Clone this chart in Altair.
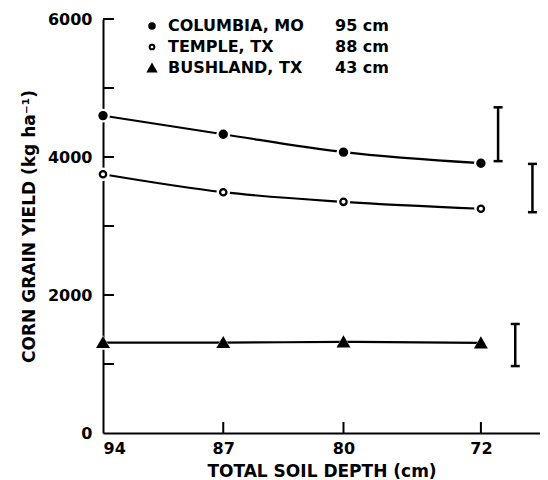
import altair as alt
import pandas as pd

# ---- data ----
depths = [94, 87, 80, 72]
columbia = [4600, 4330, 4070, 3910]
temple = [3750, 3490, 3350, 3250]
bushland = [1310, 1310, 1320, 1305]
sites = ["COLUMBIA, MO", "TEMPLE, TX", "BUSHLAND, TX"]
site_depths = ["95 cm", "88 cm", "43 cm"]
err_x = [71, 69, 70]
err_low = [3940, 3200, 970]
err_high = [4720, 3900, 1580]
y_tick_vals = [1000, 2000, 3000, 4000, 5000, 6000]
x_tick_vals = [87, 80, 72]
y_label_vals = [0, 2000, 4000, 6000]
x_label_vals = [94, 87, 80, 72]

FONT = "DejaVu Sans"
W, H = 437, 414

rows = []
for s, vals in zip(sites, [columbia, temple, bushland]):
    for d, v in zip(depths, vals):
        rows.append({"site": s, "depth": d, "yield": v})
df = pd.DataFrame(rows)

err_df = pd.DataFrame({"x": err_x, "lo": err_low, "hi": err_high})
leg_df = pd.DataFrame({"site": sites, "sdepth": site_depths, "i": list(range(len(sites)))})
ytick_df = pd.DataFrame({"v": y_tick_vals})
xtick_df = pd.DataFrame({"v": x_tick_vals})

xscale = alt.Scale(domain=[68.56, 94], reverse=True, nice=False, zero=False)
yscale = alt.Scale(domain=[0, 6000], nice=False)

shape_scale = alt.Scale(domain=sites, range=["circle", "circle", "triangle-up"])
fill_scale = alt.Scale(domain=sites, range=["black", "white", "black"])
size_scale = alt.Scale(type="ordinal", domain=sites, range=[50, 40, 100])
halo_scale = alt.Scale(type="ordinal", domain=sites, range=[190, 180, 280])
leg_size_scale = alt.Scale(type="ordinal", domain=sites, range=[30, 22, 62])

X = alt.X("depth:Q", scale=xscale,
          axis=alt.Axis(values=x_label_vals, title="TOTAL SOIL DEPTH (cm)", tickSize=0,
                        labelPadding=7, titlePadding=7, grid=False, format="d"))
Y = alt.Y("yield:Q", scale=yscale,
          axis=alt.Axis(values=y_label_vals, title="CORN GRAIN YIELD (kg ha⁻¹)", tickSize=0,
                        labelPadding=11, titlePadding=9, grid=False, format="d"))

lines = alt.Chart(df).mark_line(interpolate="monotone", color="black", strokeWidth=2.2).encode(
    x=X, y=Y, detail="site:N")

halo = alt.Chart(df).mark_point(filled=True, opacity=1, color="white", strokeWidth=0).encode(
    x="depth:Q", y="yield:Q",
    shape=alt.Shape("site:N", scale=shape_scale, legend=None),
    size=alt.Size("site:N", scale=halo_scale, legend=None))

pts = alt.Chart(df).mark_point(opacity=1, stroke="black", strokeWidth=2.3).encode(
    x="depth:Q", y="yield:Q",
    shape=alt.Shape("site:N", scale=shape_scale, legend=None),
    fill=alt.Fill("site:N", scale=fill_scale, legend=None),
    size=alt.Size("site:N", scale=size_scale, legend=None))

err_v = alt.Chart(err_df).mark_rule(color="black", strokeWidth=2.5).encode(
    x="x:Q", y="lo:Q", y2="hi:Q")
err_lo = alt.Chart(err_df).mark_rule(color="black", strokeWidth=2.5, xOffset=-4.5, x2Offset=4.5).encode(
    x="x:Q", x2="x:Q", y="lo:Q")
err_hi = alt.Chart(err_df).mark_rule(color="black", strokeWidth=2.5, xOffset=-4.5, x2Offset=4.5).encode(
    x="x:Q", x2="x:Q", y="hi:Q")

yticks = alt.Chart(ytick_df).mark_rule(color="black", strokeWidth=2).encode(
    y="v:Q", x=alt.value(0), x2=alt.value(11))
xticks = alt.Chart(xtick_df).mark_rule(color="black", strokeWidth=2).encode(
    x="v:Q", y=alt.value(H), y2=alt.value(H - 11))

leg_base = alt.Chart(leg_df).transform_calculate(py="7 + 21 * datum.i")
leg_pts = leg_base.mark_point(opacity=1, stroke="black", strokeWidth=2).encode(
    x=alt.value(49), y=alt.Y("py:Q", scale=None),
    shape=alt.Shape("site:N", scale=shape_scale, legend=None),
    fill=alt.Fill("site:N", scale=fill_scale, legend=None),
    size=alt.Size("site:N", scale=leg_size_scale, legend=None))
leg_txt = leg_base.mark_text(align="left", baseline="middle", font=FONT, fontWeight="bold",
                             fontSize=16, color="black").encode(
    x=alt.value(65), y=alt.Y("py:Q", scale=None), text="site:N")
leg_dep = leg_base.mark_text(align="left", baseline="middle", font=FONT, fontWeight="bold",
                             fontSize=16, color="black").encode(
    x=alt.value(232), y=alt.Y("py:Q", scale=None), text="sdepth:N")

chart = alt.layer(
    lines, halo, pts, err_v, err_lo, err_hi, yticks, xticks,
    leg_pts, leg_txt, leg_dep
).resolve_scale(size="independent").properties(
    width=W, height=H,
    autosize=alt.AutoSizeParams(type="none"),
    padding={"left": 95, "top": 11, "right": 0, "bottom": 48},
    background="white",
).configure_view(stroke=None).configure_axis(
    domainColor="black", domainWidth=2,
    labelFont=FONT, labelFontWeight="bold", labelFontSize=16, labelColor="black",
    titleFont=FONT, titleFontWeight="bold", titleFontSize=17, titleColor="black",
)

chart.save("out.html", embed_options={"renderer": "svg", "actions": False})
